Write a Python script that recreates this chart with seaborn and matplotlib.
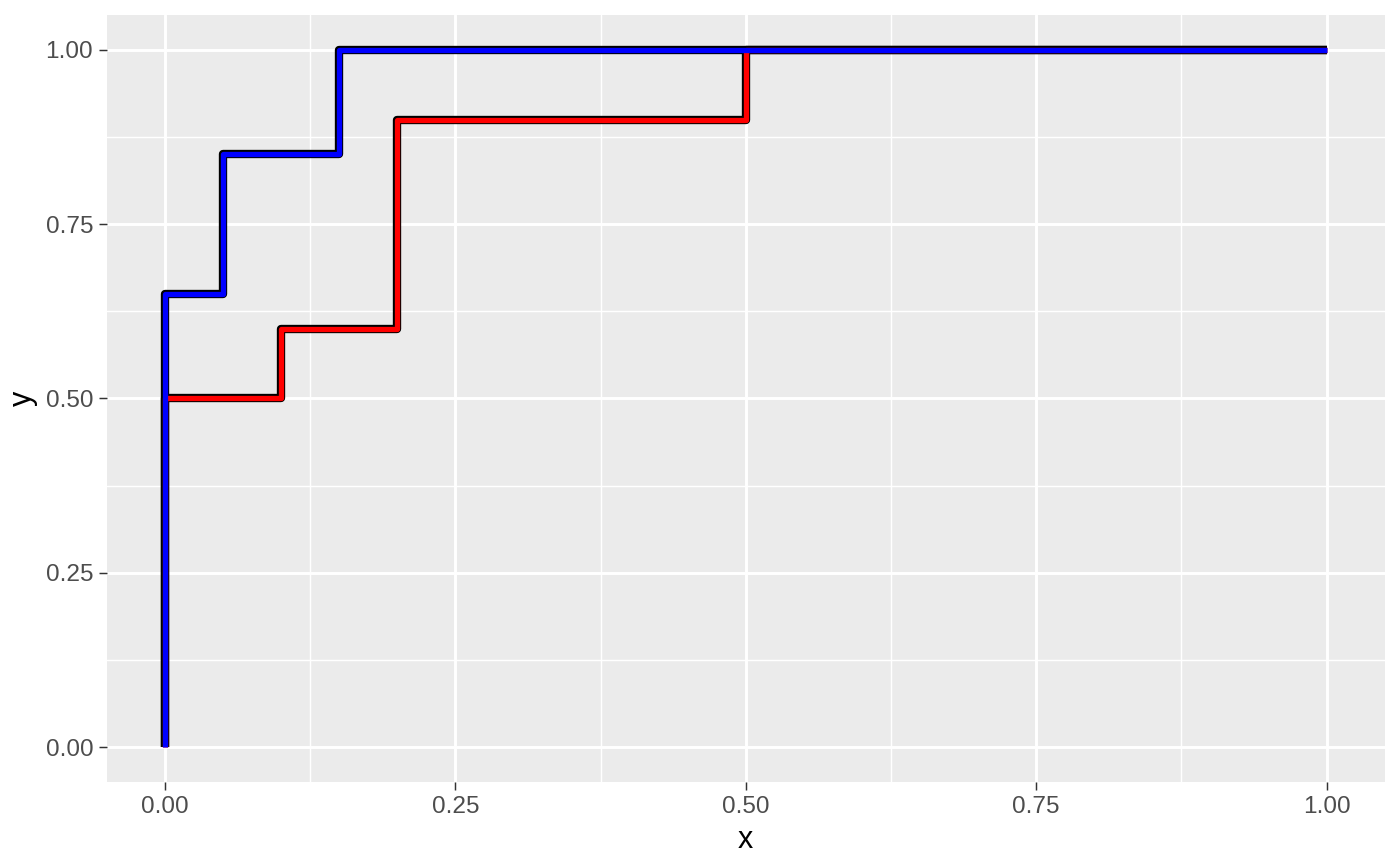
import matplotlib
matplotlib.use("Agg")
import matplotlib.pyplot as plt
import seaborn as sns
import pandas as pd
import numpy as np

# data (ROC-style step curves)
red_x = [0.0, 0.0, 0.1, 0.2, 0.5, 1.0]
red_y = [0.0, 0.5, 0.6, 0.9, 1.0, 1.0]
blue_x = [0.0, 0.0, 0.05, 0.15, 1.0]
blue_y = [0.0, 0.65, 0.85, 1.0, 1.0]
ticks = [0.0, 0.25, 0.5, 0.75, 1.0]
tick_labels = ["0.00", "0.25", "0.50", "0.75", "1.00"]
minor_ticks = [0.125, 0.375, 0.625, 0.875]

sns.set_theme(style="darkgrid", rc={
    "axes.facecolor": "#EBEBEB",
    "grid.color": "white",
    "axes.edgecolor": "none",
})
plt.rcParams["font.family"] = ["Liberation Sans", "DejaVu Sans"]

df_red = pd.DataFrame({"x": red_x, "y": red_y})
df_blue = pd.DataFrame({"x": blue_x, "y": blue_y})

fig = plt.figure(figsize=(7, 4.33), dpi=200)
ax = fig.add_axes([0.0764, 0.097, 0.989 - 0.0764, 0.9827 - 0.097])

common = dict(x="x", y="y", sort=False, estimator=None, ax=ax,
              drawstyle="steps-post", solid_joinstyle="round", solid_capstyle="butt")
sns.lineplot(data=df_red, color="black", linewidth=3.0, zorder=3, **common)
sns.lineplot(data=df_blue, color="black", linewidth=3.0, zorder=3, **common)
sns.lineplot(data=df_red, color="red", linewidth=1.9, zorder=4, **common)
sns.lineplot(data=df_blue, color="blue", linewidth=1.9, zorder=5, **common)

ax.set_xlim(-0.05, 1.05)
ax.set_ylim(-0.05, 1.05)
ax.set_xticks(ticks)
ax.set_xticklabels(tick_labels)
ax.set_yticks(ticks)
ax.set_yticklabels(tick_labels)
ax.set_xticks(minor_ticks, minor=True)
ax.set_yticks(minor_ticks, minor=True)
ax.grid(which="major", color="white", linewidth=1.07)
ax.grid(which="minor", color="white", linewidth=0.53)
ax.set_axisbelow(True)
ax.tick_params(axis="both", which="major", length=2.75, width=0.53, color="#333333",
               labelsize=8.8, labelcolor="#4D4D4D", pad=2.2, bottom=True, left=True)
ax.tick_params(axis="both", which="minor", length=0)
ax.set_xlabel("x", fontsize=11, color="black", labelpad=2.75)
ax.set_ylabel("y", fontsize=11, color="black", labelpad=2.75)
for s in ax.spines.values():
    s.set_visible(False)

fig.savefig("out.png", dpi=200)
